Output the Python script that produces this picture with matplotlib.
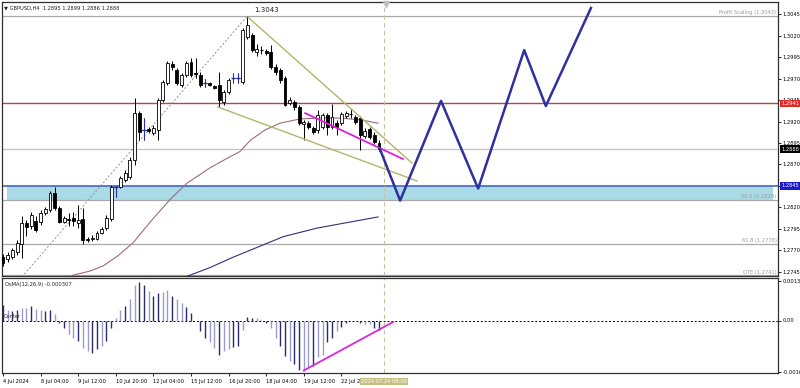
import numpy as np
import matplotlib.pyplot as plt
import matplotlib.transforms as mtransforms

plt.rcParams['font.family'] = ['Liberation Sans Narrow', 'DejaVu Sans']

# GBPUSD H4 candles (oldest -> newest), 4 Jul 20:00 .. 24 Jul 04:00
opens = [1.2762, 1.2760, 1.2762, 1.2768, 1.2778, 1.2802, 1.2798, 1.2804, 1.2803, 1.2814,
         1.2817, 1.2837, 1.2819, 1.2803, 1.2807, 1.2808, 1.2802, 1.2807, 1.2783, 1.2783,
         1.2783, 1.2790, 1.2796, 1.2807, 1.2844, 1.2844, 1.2852, 1.2855, 1.2875, 1.2930,
         1.2910, 1.2911, 1.2907, 1.2910, 1.2945, 1.2965, 1.2987, 1.2980, 1.2962, 1.2974,
         1.2989, 1.2976, 1.2974, 1.2965, 1.2965, 1.2961, 1.2962, 1.2943, 1.2954, 1.2971,
         1.2971, 1.2966, 1.3018, 1.3021, 1.3001, 1.3003, 1.3002, 1.3001, 1.2983, 1.2980,
         1.2971, 1.2942, 1.2943, 1.2937, 1.2917, 1.2918, 1.2912, 1.2910, 1.2914, 1.2928,
         1.2914, 1.2918, 1.2918, 1.2926, 1.2929, 1.2925, 1.2924, 1.2903, 1.2911, 1.2904,
         1.2895]
highs = [1.2766, 1.2768, 1.2773, 1.2782, 1.2810, 1.2805, 1.2815, 1.2810, 1.2817, 1.2820,
         1.2839, 1.2844, 1.2822, 1.2810, 1.2813, 1.2815, 1.2823, 1.2819, 1.2786, 1.2788,
         1.2793, 1.2797, 1.2811, 1.2846, 1.2845, 1.2857, 1.2864, 1.2879, 1.2947, 1.2932,
         1.2924, 1.2914, 1.2916, 1.2947, 1.2968, 1.2990, 1.2990, 1.2982, 1.2976, 1.2990,
         1.2994, 1.2994, 1.2978, 1.2969, 1.2966, 1.2962, 1.2978, 1.2957, 1.2971, 1.2976,
         1.2976, 1.3029, 1.3043, 1.3023, 1.3010, 1.3008, 1.3004, 1.3009, 1.2987, 1.2982,
         1.2973, 1.2948, 1.2945, 1.2939, 1.2922, 1.2921, 1.2915, 1.2933, 1.2930, 1.2930,
         1.2940, 1.2922, 1.2931, 1.2932, 1.2934, 1.2928, 1.2926, 1.2912, 1.2914, 1.2908,
         1.2899]
lows = [1.2752, 1.2757, 1.2760, 1.2765, 1.2761, 1.2787, 1.2795, 1.2791, 1.2800, 1.2811,
        1.2815, 1.2817, 1.2802, 1.2802, 1.2798, 1.2798, 1.2796, 1.2778, 1.2780, 1.2781,
        1.2782, 1.2789, 1.2794, 1.2804, 1.2832, 1.2843, 1.2850, 1.2853, 1.2869, 1.2898,
        1.2898, 1.2907, 1.2904, 1.2898, 1.2943, 1.2962, 1.2980, 1.2962, 1.2960, 1.2972,
        1.2972, 1.2971, 1.2960, 1.2960, 1.2961, 1.2958, 1.2937, 1.2939, 1.2952, 1.2965,
        1.2965, 1.2964, 1.3016, 1.3001, 1.2996, 1.2999, 1.2997, 1.2981, 1.2974, 1.2965,
        1.2938, 1.2939, 1.2933, 1.2916, 1.2898, 1.2911, 1.2905, 1.2907, 1.2911, 1.2904,
        1.2911, 1.2904, 1.2916, 1.2924, 1.2924, 1.2917, 1.2887, 1.2901, 1.2900, 1.2894,
        1.2886]
closes = [1.2755, 1.2765, 1.2770, 1.2779, 1.2802, 1.2797, 1.2811, 1.2794, 1.2814, 1.2818,
          1.2837, 1.2819, 1.2803, 1.2808, 1.2806, 1.2804, 1.2805, 1.2782, 1.2782, 1.2784,
          1.2790, 1.2795, 1.2808, 1.2844, 1.2844, 1.2854, 1.2860, 1.2875, 1.2930, 1.2908,
          1.2910, 1.2909, 1.2912, 1.2945, 1.2966, 1.2988, 1.2983, 1.2965, 1.2974, 1.2988,
          1.2974, 1.2975, 1.2962, 1.2965, 1.2962, 1.2959, 1.2945, 1.2954, 1.2968, 1.2971,
          1.2971, 1.3026, 1.3032, 1.3003, 1.3004, 1.3003, 1.3000, 1.2983, 1.2978, 1.2968,
          1.2939, 1.2945, 1.2937, 1.2918, 1.2919, 1.2914, 1.2908, 1.2928, 1.2928, 1.2914,
          1.2925, 1.2914, 1.2929, 1.2930, 1.2929, 1.2919, 1.2904, 1.2909, 1.2902, 1.2896,
          1.2888]
blue_doji = [24, 30, 43, 49, 50]

# OsMA(12,26,9) histogram, x1e-5
osma = [52, 36, 30, 33, 41, 41, 46, 39, 36, 31, 36, 20, -7, -26, -43, -56, -67, -89, -100, -105,
        -95, -85, -67, -23, 7, 36, 48, 69, 118, 126, 115, 97, 80, 89, 95, 100, 80, 72, 59, 43,
        23, -2, -34, -59, -72, -89, -113, -100, -95, -87, -84, -30, 10, 7, 7, 2, -7, -23, -56, -84,
        -116, -133, -144, -161, -164, -154, -149, -121, -112, -72, -59, -34, -20, -7, -3, -3, -7, -10, -13, -23,
        -30.7]

# moving averages (bar index, price)
ma_fast_x = [14.7, 18.5, 21.3, 24.5, 27.7, 31.3, 35.5, 39.1, 44.0, 48.3, 50.4, 52.6, 55.7, 58.9, 63.2, 67.4, 71.7, 76.0, 79.8]
ma_fast_y = [1.2741, 1.2746, 1.2752, 1.2764, 1.2779, 1.2803, 1.2829, 1.2848, 1.2866, 1.2879, 1.2885, 1.2898,
             1.2910, 1.2918, 1.2923, 1.2924, 1.2924, 1.2922, 1.2918]
ma_slow_x = [38.7, 44.0, 48.9, 54.7, 59.6, 66.8, 73.8, 79.8]
ma_slow_y = [1.2739, 1.2750, 1.2762, 1.2775, 1.2786, 1.2796, 1.2803, 1.2809]

# drawn objects
zigzag_x = [80.2, 84.5, 93.2, 101.1, 110.9, 115.5, 125.1]
zigzag_y = [1.2888, 1.2828, 1.2944, 1.2842, 1.3003, 1.2938, 1.3052]
wedge_top = ([52.1, 87.0], [1.30415, 1.28718])
wedge_bot = ([45.7, 88.1], [1.29369, 1.28508])
div_price = ([64.3, 85.1], [1.29297, 1.28764])
div_osma = ([64.0, 83.0], [-0.00164, -0.00005])
fibo_diag = ([4.0, 51.9], [1.2739, 1.3042])

fib_levels = [1.3043, 1.2829, 1.2778, 1.2741]
fib_names = ['Profit Scaling (1.3043)', '50.0 (1.2829)', '61.8 (1.2778)', 'OTE (1.2741)']
zone = (1.2829, 1.2845)
res_level = 1.2941
bid = 1.2888

price_ticks = [1.3045, 1.3020, 1.2995, 1.2970, 1.2945, 1.2920, 1.2895, 1.2870, 1.2845,
               1.2820, 1.2795, 1.2770, 1.2745]
time_pos = [0, 8, 16, 24, 32, 40, 48, 56, 64, 72]
time_labels = ['4 Jul 2024', '8 Jul 04:00', '9 Jul 12:00', '10 Jul 20:00', '12 Jul 04:00',
               '15 Jul 12:00', '16 Jul 20:00', '18 Jul 04:00', '19 Jul 12:00', '22 Jul 20:00']
now_idx = 81

fs = 3.7

fig = plt.figure(figsize=(8, 3.88), dpi=100)
ax = fig.add_axes([2/800, 1-276/388, 776/800, 274/388])
ax2 = fig.add_axes([2/800, 1-373/388, 776/800, 95/388])

xlim = (-0.21, 164.9)
n = len(closes)
x = np.arange(n)
o = np.array(opens); c = np.array(closes); h = np.array(highs); l = np.array(lows)

# zone + horizontal lines
ax.axhspan(zone[0], zone[1], xmin=(0.85-xlim[0])/(xlim[1]-xlim[0]), xmax=(163.8-xlim[0])/(xlim[1]-xlim[0]),
           color='#a8dbe6', lw=0, zorder=0)
ax.axhline(zone[1], color='#4665c0', lw=1.2, zorder=1)
for lv in fib_levels:
    ax.axhline(lv, color='#a8a8a8', lw=0.9, zorder=1)
ax.axhline(res_level, color='#b04848', lw=1.0, zorder=1)
ax.axhline(bid, color='#c4c4c4', lw=0.9, zorder=1)

ax.plot(*fibo_diag, color='#909090', lw=0.7, ls=(0, (2, 2)), zorder=1)
ax.plot(ma_fast_x, ma_fast_y, color='#a06a7a', lw=0.8, zorder=2)
ax.plot(ma_slow_x, ma_slow_y, color='#303078', lw=0.8, zorder=2)

# candles
ax.vlines(x, l, h, color='black', lw=0.7, zorder=3)
bull = c > o
bear = c < o
ax.bar(x[bull], c[bull]-o[bull], bottom=o[bull], width=0.62, color='white', edgecolor='black', lw=0.6, zorder=4)
ax.bar(x[bear], o[bear]-c[bear], bottom=c[bear], width=0.62, color='black', edgecolor='black', lw=0.6, zorder=4)
doji = np.where(c == o)[0]
ax.hlines(c[doji], doji-0.35, doji+0.35, color='black', lw=0.8, zorder=4)
for i in blue_doji:
    ax.vlines(i, l[i], h[i], color='#2a2ab0', lw=0.8, zorder=5)
    ax.hlines(c[i], i-0.4, i+0.4, color='#2a2ab0', lw=0.9, zorder=5)

ax.plot(*wedge_top, color='#b4b46a', lw=1.0, zorder=5)
ax.plot(*wedge_bot, color='#b4b46a', lw=1.0, zorder=5)
ax.plot(*div_price, color='#e020d8', lw=1.3, zorder=5)
ax.plot(zigzag_x, zigzag_y, color='#2f2fa0', lw=1.8, zorder=6)

ax.text(56, 1.30497, '1.3043', fontsize=5, ha='center', va='center', color='#202020')
ax.text(0.003, 0.988, '\u25bc GBPUSD,H4  1.2895 1.2899 1.2886 1.2888', transform=ax.transAxes,
        fontsize=fs, va='top', ha='left', color='#202020')
trans = mtransforms.blended_transform_factory(ax.transAxes, ax.transData)
for lv, nm in zip(fib_levels, fib_names):
    ax.text(0.998, lv + 0.00004, nm, transform=trans, fontsize=fs, ha='right', va='bottom', color='#999999')

ax.set_xlim(*xlim)
ax.set_ylim(1.27403, 1.30590)
ax.set_xticks([])
ax.yaxis.tick_right()
ax.set_yticks(price_ticks)
ax.set_yticklabels([f'{p:.4f}' for p in price_ticks])
ax.tick_params(axis='y', labelsize=fs, length=2.5, pad=1, width=0.6)

for p, bg in zip([res_level, bid, zone[1]], ['#e02a2a', '#000000', '#1a1ad0']):
    ax.text(1.004, p, f'{p:.4f}', transform=trans, fontsize=fs, color='white', va='center', ha='left',
            bbox=dict(boxstyle='square,pad=0.2', fc=bg, ec='none'), clip_on=False, zorder=8)

# OsMA pane
ov = np.array(osma) * 1e-5
bar_cols = ['#2c2c6c' if (4.7*i) % 1 < 0.5 else '#9c9cca' for i in range(n)]
ax2.vlines(x, 0, ov, colors=bar_cols, lw=1.0, zorder=3)
ax2.axhline(0, color='black', lw=0.7, ls=(0, (2, 2)), zorder=2)
ax2.plot(*div_osma, color='#d828d8', lw=1.3, zorder=4)
ax2.text(0.004, 0.96, 'OsMA(12,26,9) -0.000307', transform=ax2.transAxes, fontsize=fs, va='top', color='#202020')
ax2.text(0.2, 0.00012, 'Center', fontsize=fs, va='center', color='#303030')
ax2.set_xlim(*xlim)
ax2.set_ylim(-0.001722, 0.001394)
ax2.yaxis.tick_right()
ax2.set_yticks([0.00131, 0.0, -0.00169])
ax2.set_yticklabels(['0.00131', '0.00', '-0.00169'])
ax2.tick_params(axis='y', labelsize=fs, length=2.5, pad=1, width=0.6)
ax2.set_xticks(time_pos)
ax2.set_xticklabels(time_labels, ha='left')
ax2.tick_params(axis='x', labelsize=fs, length=2.5, pad=2, width=0.6)
ax2.text(now_idx, -0.00192, '2024.07.24 08:00', fontsize=fs, color='white', ha='center', va='top',
         bbox=dict(boxstyle='square,pad=0.2', fc='#c8c080', ec='none'), clip_on=False, zorder=8)

for a in (ax, ax2):
    a.axvline(now_idx, color='#c8c0a0', lw=0.8, ls=(0, (4, 3)), zorder=1)
    for s in a.spines.values():
        s.set_color('#303030')
        s.set_linewidth(0.9)

ax.plot([now_idx + 0.6], [0.992], marker='v', ms=4, color='#c0c0c0',
        transform=mtransforms.blended_transform_factory(ax.transData, ax.transAxes), clip_on=False, zorder=9)

fig.savefig('out.png', dpi=100, facecolor='white')
